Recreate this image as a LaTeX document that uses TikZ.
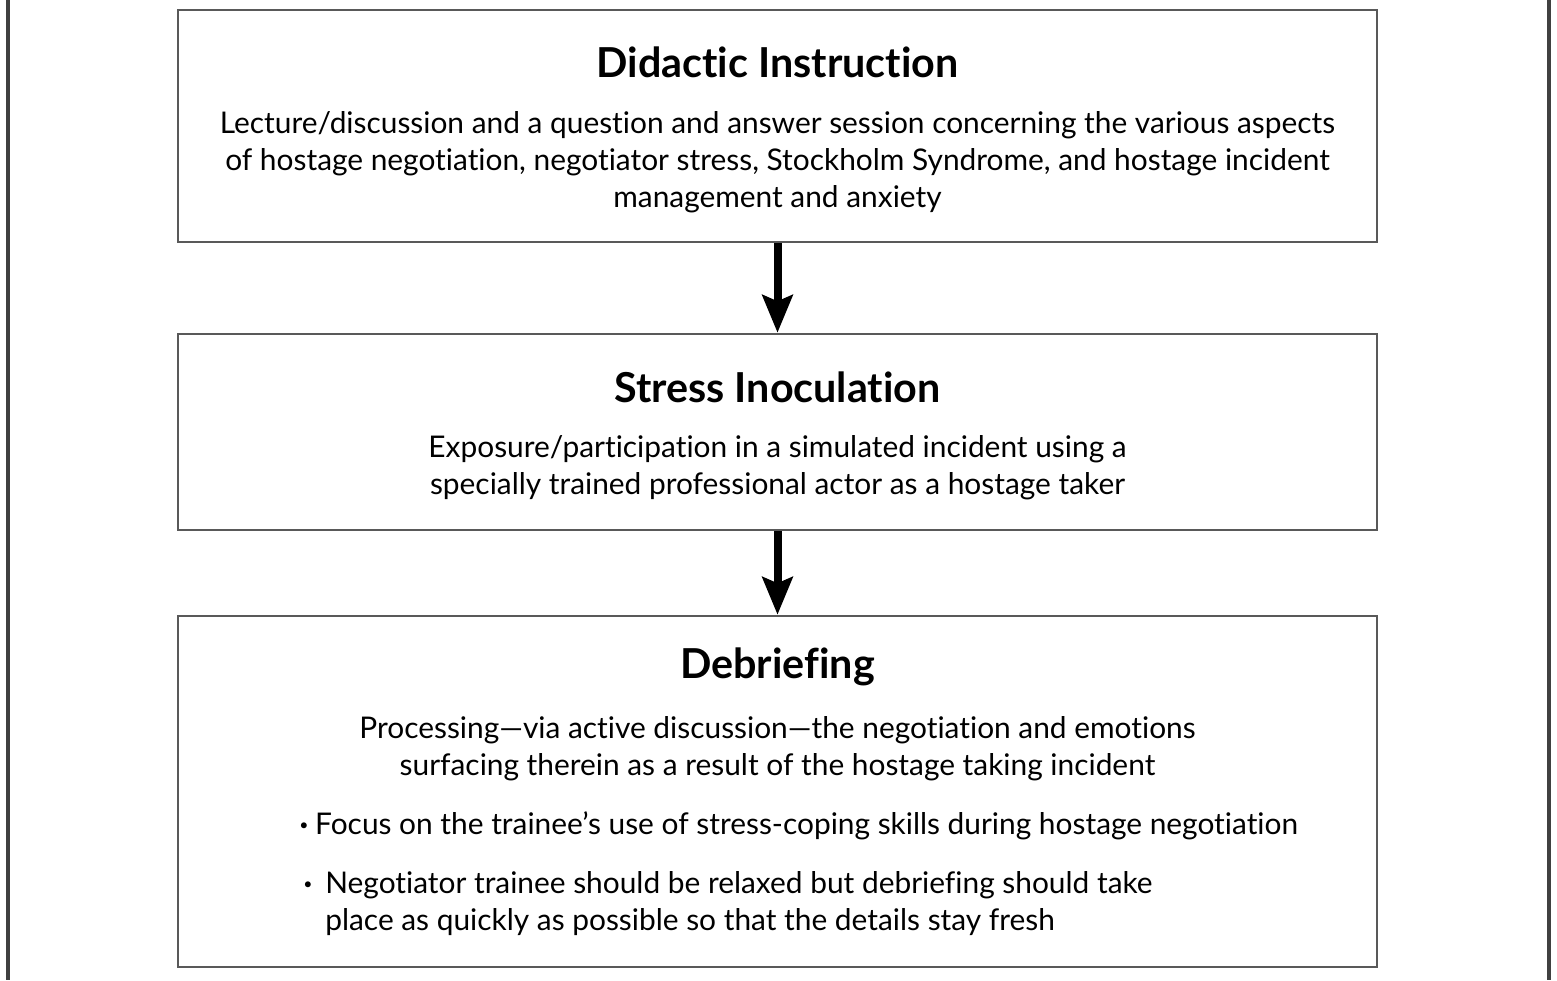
\documentclass[tikz,border=0pt]{standalone}
\usepackage{fontspec}
\setmainfont{Lato}[Ligatures = NoCommon]
\usetikzlibrary{arrows.meta}
\tikzset{
  stagebox/.style = {draw = black!65, line width = .5mm, minimum width = 1199*0.02cm, inner sep = 0pt},
  stagetitle/.style = {font = \fontsize{23.5}{28}\selectfont\bfseries},
  stagetext/.style = {font = \fontsize{17}{21}\selectfont, align = center, inner sep = 0pt},
  pointtext/.style = {font = \fontsize{17}{21}\selectfont, align = left, anchor = north west, inner sep = 0pt},
  flow/.style = {line width = 1.6mm, -{Stealth[length = 7.5mm, width = 6mm, inset = 1.2mm]}}
}
\newcommand{\dotmark}{\raisebox{.25ex}{\fontsize{9}{9}\selectfont\textbullet}}
\begin{document}
\begin{tikzpicture}[x = 0.02cm, y = -0.02cm]
        \useasboundingbox (0, 0) rectangle (1557, 980);
        % outer frame
        \draw[black!75, line width = .8mm] (8, 0) -- (8, 980);
        \draw[black!75, line width = .8mm] (1549, 0) -- (1549, 980);
        % the three stages
        \node[stagebox, minimum height = 232*0.02cm] (didactic) at (777.5, 126) {};
        \node[stagebox, minimum height = 196*0.02cm] (stress) at (777.5, 432) {};
        \node[stagebox, minimum height = 351*0.02cm] (debrief) at (777.5, 791.5) {};
        \node[stagetitle] (didactic title) at (777.5, 62) {Didactic Instruction};
        \node[stagetext] (didactic text) at (777.5, 162) {Lecture/discussion and a question and answer session concerning the various aspects\\
                of hostage negotiation, negotiator stress, Stockholm Syndrome, and hostage incident\\
                management and anxiety};
        \node[stagetitle] (stress title) at (777.5, 387) {Stress Inoculation};
        \node[stagetext] (stress text) at (777.5, 467.5) {Exposure/participation in a simulated incident using a\\
                specially trained professional actor as a hostage taker};
        \node[stagetitle] (debrief title) at (777.5, 667) {Debriefing};
        \node[stagetext] (debrief text) at (777.5, 748.5) {Processing---via active discussion---the negotiation and emotions\\
                surfacing therein as a result of the hostage taking incident};
        \node[pointtext] (point one) at (299, 811) {\makebox[9pt][l]{\dotmark}Focus on the trainee's use of stress-coping skills during hostage negotiation};
        \node[pointtext] (point two) at (303, 871) {\makebox[12.5pt][l]{\dotmark}Negotiator trainee should be relaxed but debriefing should take\\
                \hspace*{12.5pt}place as quickly as possible so that the details stay fresh};
        % flow between the stages
        \draw[flow] (didactic.south) -- (stress.north);
        \draw[flow] (stress.south) -- (debrief.north);
\end{tikzpicture}
\end{document}
